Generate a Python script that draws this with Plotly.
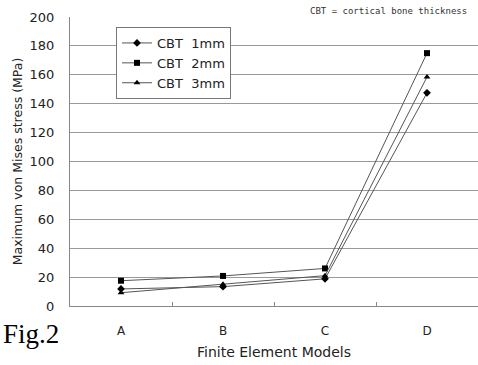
import plotly.graph_objects as go

models = ["A", "B", "C", "D"]
cbt_1mm = [11.8, 13.4, 18.8, 147.5]
cbt_2mm = [17.5, 20.8, 26.0, 175.0]
cbt_3mm = [9.2, 15.0, 21.0, 158.5]
series_names = ["CBT  1mm", "CBT  2mm", "CBT  3mm"]
y_ticks = list(range(0, 201, 20))

SANS = "DejaVu Sans, Arial, sans-serif"

fig = go.Figure()
for name, vals, sym in zip(series_names, [cbt_1mm, cbt_2mm, cbt_3mm],
                           ["diamond", "square", "triangle-up"]):
    fig.add_trace(go.Scatter(
        x=models, y=vals, name=name, mode="lines+markers",
        line=dict(color="#555555", width=1),
        marker=dict(symbol=sym, size=6, color="black"),
    ))

fig.update_layout(
    width=478, height=365,
    margin=dict(l=70, r=0, t=17, b=59),
    paper_bgcolor="white", plot_bgcolor="white",
    font=dict(family=SANS, color="#222222"),
    showlegend=True,
    legend=dict(
        x=(116 - 70) / 408, y=1 - (27 - 17) / 289, xanchor="left", yanchor="top",
        bordercolor="#777777", borderwidth=1, bgcolor="white",
        font=dict(size=13, color="#222222"),
        tracegroupgap=0, itemwidth=30,
    ),
    xaxis=dict(
        type="category", range=[-0.5, 3.5],
        showline=True, linecolor="#888888", linewidth=1,
        ticks="inside", tickson="boundaries", ticklen=4, tickcolor="#888888",
        showgrid=False, tickfont=dict(size=12), ticklabelstandoff=14,
        title=dict(text="Finite Element Models", font=dict(size=14), standoff=9),
    ),
    yaxis=dict(
        range=[0, 200], tickvals=y_ticks,
        showline=True, linecolor="#888888", linewidth=1,
        showgrid=True, gridcolor="#999999", gridwidth=1,
        ticks="", tickfont=dict(size=13), ticklabelstandoff=12,
        title=dict(text="Maximum von Mises stress (MPa)", font=dict(size=12.5), standoff=4),
        zeroline=False,
    ),
)

fig.add_annotation(
    text="CBT = cortical bone thickness", xref="paper", yref="paper",
    x=1, y=1, xanchor="right", yanchor="bottom", xshift=-9, yshift=-1,
    showarrow=False, font=dict(family="DejaVu Sans Mono, monospace", size=9, color="#333333"),
)
fig.add_annotation(
    text="Fig.2", xref="paper", yref="paper",
    x=0, y=0, xanchor="left", yanchor="middle", xshift=-69, yshift=-28,
    showarrow=False, font=dict(family="Liberation Serif, Times New Roman, serif", size=27, color="black"),
)

fig.write_html("out.html")
